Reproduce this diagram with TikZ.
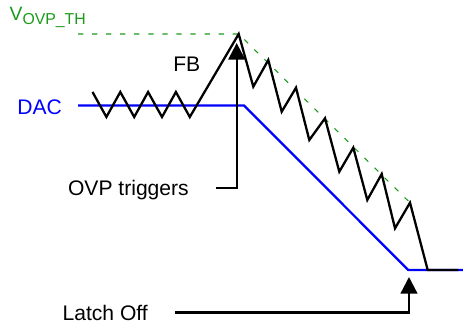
\documentclass[tikz,border=0pt]{standalone}
\usepackage{fontspec}
\setmainfont{Liberation Sans}
\usetikzlibrary{arrows.meta, positioning, calc}
\definecolor{WaveBlue}{HTML}{0000FF}
\definecolor{LimitGreen}{HTML}{1A9A1A}
\tikzset{
  wave/.style={line width=1.3pt, draw=black, line join=miter},
  dacline/.style={line width=1.3pt, draw=WaveBlue},
  limit/.style={line width=0.6pt, draw=LimitGreen, dash pattern=on 3pt off 5pt},
  tag/.style={inner sep=0pt, font=\fontsize{12}{14}\selectfont},
  callout/.style={tag, text height=8.6pt, text depth=0pt, outer xsep=15.5pt},
  pointer/.style={-{Triangle[length=9.5pt, width=9.5pt]}, line width=1.3pt},
}

\begin{document}
\begin{tikzpicture}[x=0.02cm, y=-0.02cm]
    \useasboundingbox (0,0) rectangle (463,324);
    \coordinate (peak) at (238.7,34);
    \coordinate (trigTip) at (236.7,43);
    \coordinate (latchTip) at (409,277);
    % threshold and DAC level
    \draw[limit] (78,34) -- (peak) -- (410,202.7);
    \draw[dacline] (78,105.5) -- (244,105.5) -- (408.3,270) -- (463,270);
    % FB ripple, overshoot and discharge
    \draw[wave] (92.5,92) -- (106.4,117) -- (120.3,92) -- (134.2,117)
      -- (148.1,92) -- (162,117) -- (175.9,92) -- (189.8,117) -- (peak)
      -- (253.3,86.7) -- (268.3,60) -- (281.7,111.7) -- (296,87.7)
      -- (309.3,140) -- (325,118.3) -- (339.3,171.7) -- (353.3,147.7)
      -- (367.3,200) -- (381.7,174) -- (395,228.3) -- (410,202.7)
      -- (427.7,270) -- (458.3,270);
    \node[tag, text=LimitGreen, anchor=base west] (vth) at (9.3,20.7)
      {\fontsize{11}{13}\selectfont V\raisebox{-2.3pt}{\fontsize{9}{10}\selectfont OVP\_TH}};
    \node[tag, text=WaveBlue, anchor=base west] (dac) at (17,115) {DAC};
    \node[tag, anchor=base west] (fb) at (173,72) {FB};
    \node[callout, anchor=east] (trig) at (216,188) {OVP triggers};
    \node[callout, anchor=east] (latch) at (175,312.5) {Latch Off};
    \draw[pointer] (trig.east) -| (trigTip);
    \draw[pointer] (latch.east) -| (latchTip);
\end{tikzpicture}
\end{document}
